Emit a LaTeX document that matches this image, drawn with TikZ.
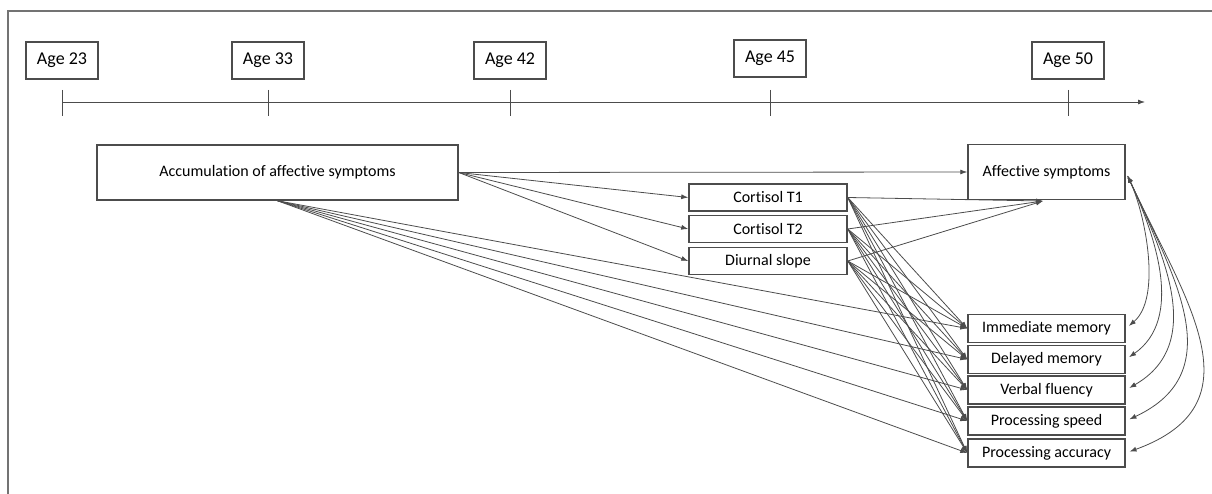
\documentclass[tikz,border=0pt]{standalone}
\usepackage{fontspec}
\setmainfont{Carlito}[Ligatures=NoCommon]
\usetikzlibrary{arrows.meta,calc}

\begin{document}
\begin{tikzpicture}
      [%%%%%%%%%%%%%%%%%%%%%%%%%%%%%%
          x=1pt,y=-1pt,
          >={Latex[length=7pt,width=5pt]},
          box/.style={rectangle,draw=black!70,line width=1.5pt,inner sep=0pt,
                      font=\fontsize{16}{19}\selectfont},
          agebox/.style={box,minimum width=72pt,minimum height=37pt,
                      font=\fontsize{18}{21}\selectfont},
          cortbox/.style={box,minimum width=158pt,minimum height=27pt},
          testbox/.style={box,minimum width=157pt,minimum height=28pt},
          link/.style={draw=black!70,line width=0.8pt}
      ]%%%%%%%%%%%%%%%%%%%%%%%%%%%%%%

  \useasboundingbox (0,0) rectangle (1212,494);
  \draw[black!55,line width=2pt] (8,494) -- (8,11) -- (1212,11);

  % time line
  \node[agebox] (a23) at (62,60.5) {Age 23};
  \node[agebox] (a33) at (268,60.5) {Age 33};
  \node[agebox] (a42) at (510,60.5) {Age 42};
  \node[agebox] (a45) at (770,58.5) {Age 45};
  \node[agebox] (a50) at (1068,60.5) {Age 50};

  \coordinate (tlstart) at (62,102);
  \coordinate (tlend) at (1145,102);
  \draw[link,->] (tlstart) -- (tlend);
  \foreach \a in {a23,a33,a42,a45,a50}
      \draw[link] ([yshift=12pt]\a |- tlstart) -- ([yshift=-14pt]\a |- tlstart);

  % model
  \node[box,minimum width=361pt,minimum height=55pt] (accum) at (277.5,172.5)
      {Accumulation of affective symptoms};
  \node[box,minimum width=157pt,minimum height=55pt] (aff) at (1046.5,172)
      {Affective symptoms};
  \coordinate (affpt) at (1043,201);

  \node[cortbox] (cort1) at (768,197.5) {Cortisol T1};
  \node[cortbox] (cort2) at (768,229) {Cortisol T2};
  \node[cortbox] (slope) at (768,261) {Diurnal slope};

  \node[testbox] (immem)  at (1046.5,328.5) {Immediate memory};
  \node[testbox] (delmem) at (1046.5,359.5) {Delayed memory};
  \node[testbox] (verbal) at (1046.5,390) {Verbal fluency};
  \node[testbox] (speed)  at (1046.5,421) {Processing speed};
  \node[testbox] (accur)  at (1046.5,453) {Processing accuracy};

  \draw[link,->] (accum.east) -- (aff.west);
  \foreach \c in {cort1,cort2,slope}{
      \draw[link,->] (accum.east) -- (\c.west);
      \draw[link,->] (\c.east) -- (affpt);
  }

  \foreach \o in {immem,delmem,verbal,speed,accur}{
      \draw[link,->] (accum.south) -- (\o.west);
      \foreach \c in {cort1,cort2,slope}
          \draw[link,->] (\c.east) -- (\o.west);
  }

  % correlations
  \foreach \o/\i/\l in {immem/40/0.77,delmem/35/0.97,verbal/30/1.08,speed/25/1.19,accur/20/1.31}
      \draw[link,<->,shorten <=4pt,shorten >=4pt] (aff.east)
          to[out=-65,in=\i,looseness=\l] (\o.east);

  \end{tikzpicture}
\end{document}
